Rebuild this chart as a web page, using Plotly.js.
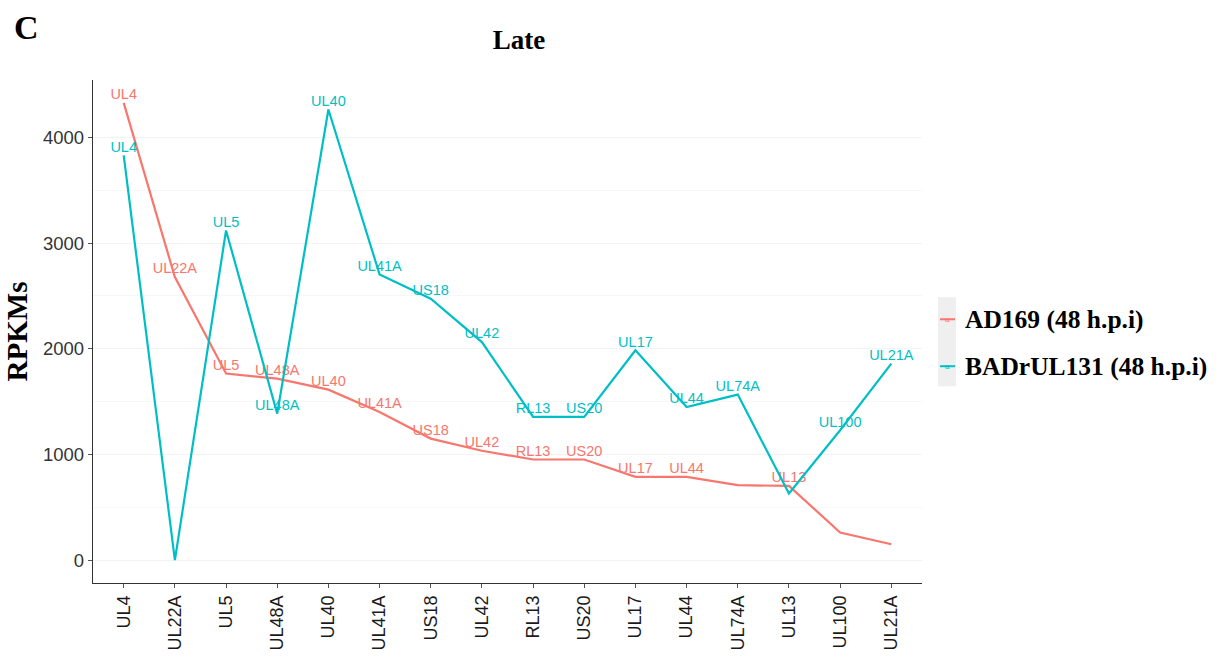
<!DOCTYPE html>
<html>
<head>
<meta charset="utf-8">
<script src="https://cdn.plot.ly/plotly-3.0.1.min.js"></script>
<style>html,body{margin:0;padding:0;background:#fff;}#chart{width:1221px;height:659px;}</style>
</head>
<body>
<div id="chart"></div>
<script>
const genes = ["UL4","UL22A","UL5","UL48A","UL40","UL41A","US18","UL42","RL13","US20","UL17","UL44","UL74A","UL13","UL100","UL21A"];
const ad169 = [4326,2678,1765,1717,1613,1402,1150,1035,952,952,788,788,709,703,262,151];
const badrul131 = [3828,0,3119,1386,4263,2703,2473,2063,1355,1355,1985,1449,1566,630,1229,1859];
const ad169Labels = ["UL4","UL22A","UL5","UL48A","UL40","UL41A","US18","UL42","RL13","US20","UL17","UL44","","UL13","",""];
const badLabels = ["UL4","","UL5","UL48A","UL40","UL41A","US18","UL42","RL13","US20","UL17","UL44","UL74A","","UL100","UL21A"];
const seriesNames = ["AD169 (48 h.p.i)", "BADrUL131 (48 h.p.i)"];
const colors = ["#F8766D", "#00BFC4"];
const yTicks = [0, 1000, 2000, 3000, 4000];

const serif = "Liberation Serif, Times New Roman, serif";
const sans = "Liberation Sans, Arial, sans-serif";

const traces = [
  {x: genes, y: ad169, name: seriesNames[0], mode: "lines+text", text: ad169Labels,
   textposition: "top center", textfont: {family: sans, size: 14.5, color: colors[0]},
   line: {color: colors[0], width: 2.2}, cliponaxis: false, showlegend: false},
  {x: genes, y: badrul131, name: seriesNames[1], mode: "lines+text", text: badLabels,
   textposition: "top center", textfont: {family: sans, size: 14.5, color: colors[1]},
   line: {color: colors[1], width: 2.2}, cliponaxis: false, showlegend: false}
];

// pixel -> paper helpers for the custom legend/decoration placement
const L = 93, R = 922, T = 79.5, B = 583;
const px = v => (v - L) / (R - L);
const py = v => (B - v) / (B - T);

const legendRows = [319, 366];
const shapes = [
  {type: "rect", xref: "paper", yref: "paper", x0: px(938), x1: px(956), y0: py(386), y1: py(297),
   fillcolor: "#efefef", line: {width: 0}, layer: "above"}
];
const annotations = [
  {text: "C", xref: "paper", yref: "paper", x: px(12), y: py(27), xanchor: "left", yanchor: "middle", showarrow: false,
   font: {family: serif, size: 34, color: "#000", weight: "bold"}}
];
seriesNames.forEach((nm, i) => {
  shapes.push({type: "line", xref: "paper", yref: "paper", x0: px(940), x1: px(955), y0: py(legendRows[i]), y1: py(legendRows[i]),
               line: {color: colors[i], width: 2}, layer: "above"});
  annotations.push({text: "a", xref: "paper", yref: "paper", x: px(947.5), y: py(legendRows[i]), xanchor: "center", yanchor: "middle",
                    showarrow: false, font: {family: sans, size: 8, color: colors[i]}});
  annotations.push({text: "<b>" + nm + "</b>", xref: "paper", yref: "paper", x: px(963), y: py(legendRows[i]), xanchor: "left", yanchor: "middle",
                    showarrow: false, font: {family: serif, size: 25.5, color: "#000"}});
});

const layout = {
  width: 1221, height: 659,
  margin: {l: L, r: 1221 - R, t: T, b: 659 - B, pad: 0},
  paper_bgcolor: "#ffffff", plot_bgcolor: "#ffffff",
  title: {text: "<b>Late</b>", x: px(519), xref: "paper", xanchor: "center", y: 1 - 40 / 659, yref: "container", yanchor: "middle",
          font: {family: serif, size: 27, color: "#000"}},
  xaxis: {type: "category", range: [-0.6, 15.6], showgrid: false, zeroline: false,
          showline: true, linecolor: "#333", linewidth: 1.2, ticks: "outside", ticklen: 4, tickcolor: "#555",
          tickangle: -90, tickfont: {family: sans, size: 18, color: "#1a1a1a"}},
  yaxis: {range: [-216, 4542], tickvals: yTicks, ticktext: yTicks.map(String),
          showgrid: true, gridcolor: "#f3f3f3", gridwidth: 1, zeroline: false,
          showline: true, linecolor: "#333", linewidth: 1.2, ticks: "outside", ticklen: 4, tickcolor: "#555",
          tickfont: {family: sans, size: 18.5, color: "#333"},
          minor: {tickvals: [500,1500,2500,3500], showgrid: true, gridcolor: "#f7f7f7", gridwidth: 1, ticks: ""},
          title: {text: "<b>RPKMs</b>", standoff: 6, font: {family: serif, size: 29, color: "#000"}}},
  showlegend: false,
  shapes: shapes,
  annotations: annotations
};

Plotly.newPlot("chart", traces, layout, {displayModeBar: false, staticPlot: true});
</script>
</body>
</html>
